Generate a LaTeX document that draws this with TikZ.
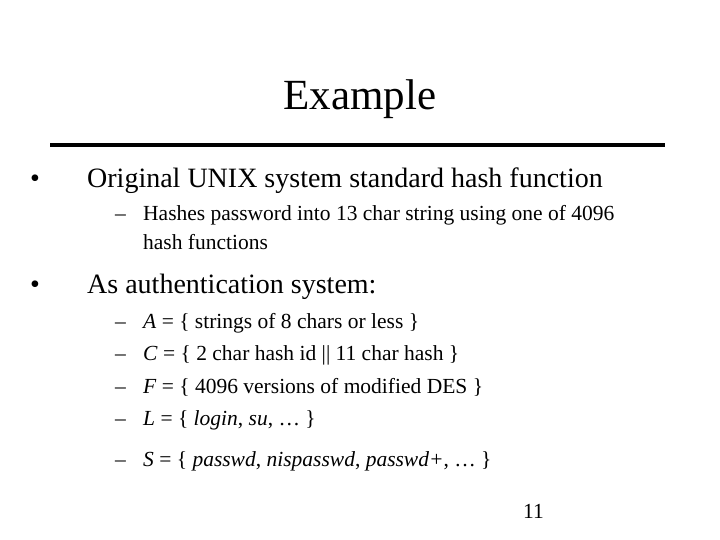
\documentclass[tikz,border=0pt]{standalone}
\usepackage{fontspec}
\setmainfont{Liberation Serif}
\begin{document}
\begin{tikzpicture}[x=1pt,y=-1pt,
  big/.style={anchor=base west,inner sep=0pt,font=\fontsize{28}{30}\selectfont},
  small/.style={anchor=base west,inner sep=0pt,font=\fontsize{21.5}{24}\selectfont}]
\useasboundingbox (0,0) rectangle (720,540);
\node[anchor=base,inner sep=0pt,font=\fontsize{43}{46}\selectfont] (title) at (360,110) {Example};
\coordinate (r1) at (50,145); \coordinate (r2) at (665,145);
\draw[line width=3.5pt] (r1) -- (r2);
\node[big] (b1) at (30,188) {•};
\node[big] (t1) at (87,188) {Original UNIX system standard hash function};
\node[small] (d1) at (115,221) {–};
\node[small] (s1) at (143,221) {Hashes password into 13 char string using one of 4096};
\node[small] (s1b) at (143,249) {hash functions};
\node[big] (b2) at (30,293) {•};
\node[big] (t2) at (87,293) {As authentication system:};
\foreach \y/\t [count=\i] in {
 328/{\textit{A} = \{ strings of 8 chars or less \}},
 360/{\textit{C} = \{ 2 char hash id || 11 char hash \}},
 393/{\textit{F} = \{ 4096 versions of modified DES \}},
 425/{\textit{L} = \{ \textit{login}, \textit{su}, \ldots\ \}},
 466/{\textit{S} = \{ \textit{passwd}, \textit{nispasswd}, \textit{passwd+}, \ldots\ \}}}{
  \node[small] (dd\i) at (115,\y) {–};
  \node[small] (ss\i) at (143,\y) {\t};
}
\node[small] (pg) at (523,518) {11};
\end{tikzpicture}
\end{document}
